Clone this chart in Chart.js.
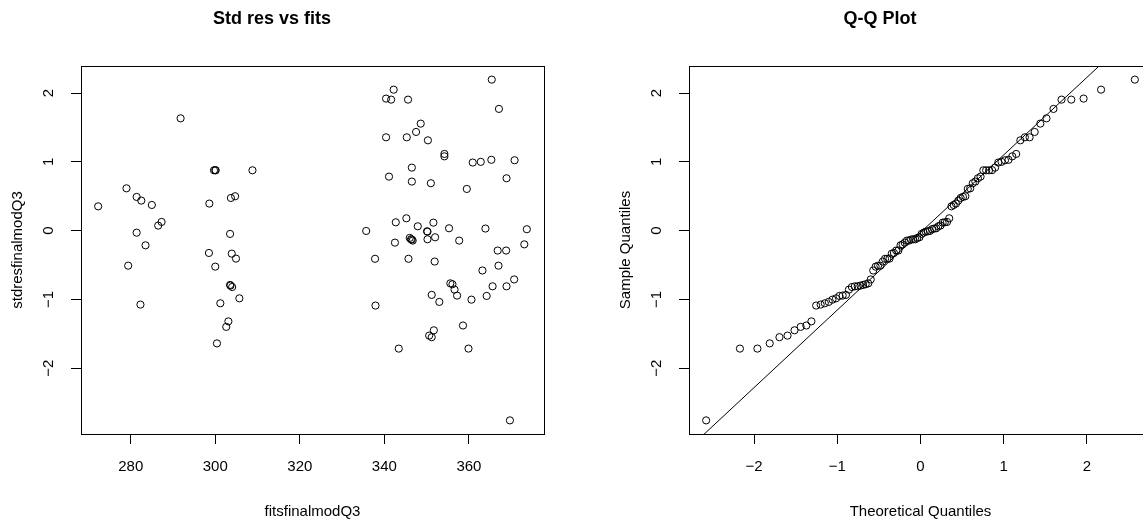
<!DOCTYPE html>
<html><head><meta charset="utf-8">
<script src="https://cdn.jsdelivr.net/npm/chart.js@4.4.0/dist/chart.umd.min.js"></script>
<style>
html,body{margin:0;padding:0;background:#fff;overflow:hidden;}
#wrap{position:relative;width:1143px;height:524px;overflow:hidden;background:#fff;}
canvas{position:absolute;top:0;}
#c1{left:0;}
#c2{left:608px;}
</style></head><body>
<div id="wrap"><canvas id="c1" width="625" height="524"></canvas><canvas id="c2" width="625" height="524"></canvas></div>
<script>
// ---- data ----
const fits = [
 272.3,291.8,279.0,281.4,282.5,285.0,286.5,287.3,281.4,283.5,279.4,282.3,
 299.7,300.1,308.8,298.6,303.7,304.7,303.5,298.5,303.9,304.9,300.0,303.5,304.0,305.7,301.2,303.1,302.6,300.4,
 365.4,342.2,340.4,341.6,345.6,367.1,348.6,347.5,345.3,340.4,350.3,354.2,354.2,360.9,362.8,365.3,370.8,
 346.5,341.1,346.5,351.0,368.9,359.5,335.7,342.7,345.2,347.9,350.1,351.6,355.3,363.9,373.7,
 342.5,346.0,346.3,346.7,350.2,352.0,357.7,373.1,366.8,368.8,337.8,345.7,351.9,363.2,367.0,
 370.7,368.9,365.6,355.6,356.1,356.6,357.2,351.2,353.0,360.6,364.2,337.9,358.6,351.7,350.6,351.2,
 343.4,359.9,369.7,
 346.5,350.2,303.6,300.0
];
const stdres = [
 0.353,1.633,0.615,0.49,0.436,0.373,0.073,0.126,-0.03,-0.214,-0.51,-1.076,
 0.877,0.877,0.877,0.393,0.475,0.5,-0.048,-0.325,-0.335,-0.407,-0.524,-0.79,-0.82,-0.985,-1.057,-1.32,-1.40,-1.64,
 2.196,2.05,1.92,1.905,1.905,1.77,1.556,1.435,1.357,1.357,1.313,1.115,1.08,0.99,1.0,1.03,1.023,
 0.916,0.785,0.713,0.689,0.761,0.606,-0.005,0.121,0.179,0.063,-0.01,0.116,0.034,0.03,0.02,
 -0.175,-0.106,-0.126,-0.145,-0.126,-0.097,-0.145,-0.2,-0.29,-0.29,-0.41,-0.41,-0.45,-0.58,-0.51,
 -0.71,-0.81,-0.81,-0.767,-0.78,-0.858,-0.945,-0.935,-1.037,-1.004,-0.95,-1.09,-1.38,-1.45,-1.527,-1.55,
 -1.716,-1.716,-2.76,
 -0.13,-0.015,-0.80,0.88
];
const theoreticalQuantiles = [
 -2.576,-2.170,-1.960,-1.812,-1.695,-1.598,-1.514,-1.440,-1.372,-1.311,
 -1.254,-1.200,-1.150,-1.103,-1.058,-1.015,-0.974,-0.935,-0.896,-0.860,
 -0.824,-0.789,-0.755,-0.722,-0.690,-0.659,-0.628,-0.598,-0.568,-0.539,
 -0.510,-0.482,-0.454,-0.426,-0.399,-0.372,-0.345,-0.319,-0.292,-0.266,
 -0.240,-0.215,-0.189,-0.164,-0.138,-0.113,-0.088,-0.063,-0.038,-0.013,
 0.013,0.038,0.063,0.088,0.113,0.138,0.164,0.189,0.215,0.240,
 0.266,0.292,0.319,0.345,0.372,0.399,0.426,0.454,0.482,0.510,
 0.539,0.568,0.598,0.628,0.659,0.690,0.722,0.755,0.789,0.824,
 0.860,0.896,0.935,0.974,1.015,1.058,1.103,1.150,1.200,1.254,
 1.311,1.372,1.440,1.514,1.598,1.695,1.812,1.960,2.170,2.576
];
const fitsTicks = [280,300,320,340,360];
const resTicks = [-2,-1,0,1,2];
const qqTicks = [-2,-1,0,1,2];
const fitsLimits = [268.24, 377.76];
const resLimits = [-2.958, 2.394];
const qqXLimits = [-2.782, 2.782];
const qqLineIntercept = -0.027;
const qqLineSlope = 1.128;

// ---- chart setup ----
const FONT = '"Liberation Sans", Arial, Helvetica, sans-serif';
Chart.defaults.font.family = FONT;
Chart.defaults.color = '#000';
const fmt = v => (v < 0 ? '\u2212' + Math.abs(v) : String(v));

const rStyle = {
  id: 'rStyle',
  afterDraw(chart) {
    const {ctx, chartArea: a} = chart;
    ctx.save();
    ctx.strokeStyle = '#000'; ctx.lineWidth = 1;
    ctx.strokeRect(Math.round(a.left) + 0.5, Math.round(a.top) + 0.5,
                   Math.round(a.right - a.left), Math.round(a.bottom - a.top));
    const ys = chart.scales.y;
    ctx.font = '15px ' + FONT;
    ctx.fillStyle = '#000'; ctx.textAlign = 'center'; ctx.textBaseline = 'middle';
    ys.ticks.forEach(t => {
      const py = ys.getPixelForValue(t.value);
      ctx.save(); ctx.translate(a.left - 32, py); ctx.rotate(-Math.PI / 2);
      ctx.fillText(fmt(t.value), 0, 0); ctx.restore();
    });
    ctx.restore();
  }
};

function makeOptions(title, xTitle, yTitle, xLimits, xTicks) {
  return {
    responsive: false, devicePixelRatio: 1, animation: false,
    layout: {padding: {left: 0, right: 81, top: 0, bottom: 0}},
    plugins: {
      legend: {display: false}, tooltip: {enabled: false},
      title: {display: true, text: title, color: '#000',
              font: {size: 18, weight: 'bold', family: FONT},
              padding: {top: 8, bottom: 36.4}}
    },
    scales: {
      x: {type: 'linear', position: 'bottom', min: xLimits[0], max: xLimits[1],
          afterBuildTicks: s => { s.ticks = xTicks.map(v => ({value: v})); },
          afterFit: s => { s.height = 90; },
          grid: {drawOnChartArea: false, drawTicks: true, tickLength: 10, color: '#000', lineWidth: 1},
          border: {display: true, color: '#000'},
          ticks: {padding: 14, autoSkip: false, maxRotation: 0, color: '#000',
                  font: {size: 15, family: FONT}, callback: v => fmt(v)},
          title: {display: true, text: xTitle, color: '#000', font: {size: 15, family: FONT},
                  padding: {top: 0, bottom: 3}}},
      y: {type: 'linear', position: 'left', min: resLimits[0], max: resLimits[1],
          afterBuildTicks: s => { s.ticks = resTicks.map(v => ({value: v})); },
          afterFit: s => { s.width = 81; },
          grid: {drawOnChartArea: false, drawTicks: true, tickLength: 10, color: '#000', lineWidth: 1},
          border: {display: true, color: '#000'},
          ticks: {display: false},
          title: {display: true, text: yTitle, color: '#000', font: {size: 15, family: FONT},
                  padding: {top: 9, bottom: 0}}}
    }
  };
}

const pointStyle = {pointStyle: 'circle', pointRadius: 3.6, pointHoverRadius: 3.6,
  borderColor: '#000', pointBorderWidth: 1, backgroundColor: 'rgba(0,0,0,0)', showLine: false};

new Chart(document.getElementById('c1'), {
  type: 'scatter',
  data: {datasets: [Object.assign({data: fits.map((f, i) => ({x: f, y: stdres[i]}))}, pointStyle)]},
  options: makeOptions('Std res vs fits', 'fitsfinalmodQ3', 'stdresfinalmodQ3', fitsLimits, fitsTicks),
  plugins: [rStyle]
});

const sortedRes = stdres.slice().sort((a, b) => a - b);
new Chart(document.getElementById('c2'), {
  type: 'scatter',
  data: {datasets: [
    Object.assign({data: theoreticalQuantiles.map((q, i) => ({x: q, y: sortedRes[i]}))}, pointStyle),
    {data: qqXLimits.map(x => ({x: x, y: qqLineIntercept + qqLineSlope * x})),
     showLine: true, pointRadius: 0, borderColor: '#000', borderWidth: 1, fill: false}
  ]},
  options: makeOptions('Q-Q Plot', 'Theoretical Quantiles', 'Sample Quantiles', qqXLimits, qqTicks),
  plugins: [rStyle]
});
</script>
</body></html>
